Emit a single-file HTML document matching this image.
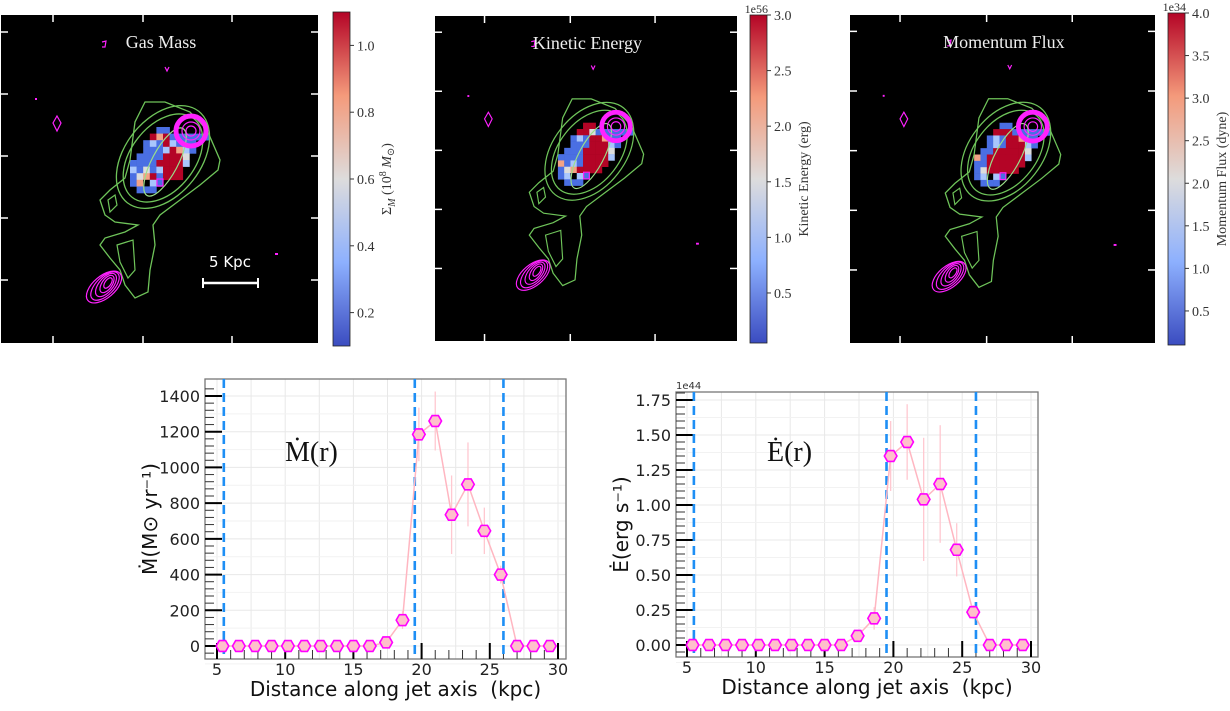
<!DOCTYPE html>
<html><head><meta charset="utf-8">
<style>
body{margin:0;background:#fff;width:1230px;height:707px;overflow:hidden;font-family:"DejaVu Sans","Liberation Sans",sans-serif}
svg text{font-family:"DejaVu Sans","Liberation Sans",sans-serif}
svg text.serif{font-family:"Liberation Serif","DejaVu Serif",serif}
</style></head>
<body>
<svg id="root" width="1230" height="707" viewBox="0 0 1230 707" xmlns="http://www.w3.org/2000/svg">
<defs>
<linearGradient id="cw" x1="0" y1="1" x2="0" y2="0">
<stop offset="0" stop-color="#3b4cc0"/><stop offset="0.25" stop-color="#8db0fe"/><stop offset="0.5" stop-color="#dddcdc"/><stop offset="0.75" stop-color="#f49a7b"/><stop offset="1" stop-color="#b40426"/>
</linearGradient>
<g id="contours">
<path d="M145,102 L165,102 L190,112 L207,130 L220,160 L218,170 L200,185 L180,200 L160,215 L153,225 L155,245 L150,270 L148,292 L135,298 L125,285 L120,270 L110,258 L100,245 L105,238 L125,232 L138,225 L115,222 L105,215 L100,200 L110,190 L125,178 L130,160 L135,122 Z" fill="none" stroke="#6fc45a" stroke-width="1.3"/>
<path d="M108,200 L115,195 L117,205 L110,212 Z" fill="none" stroke="#6fc45a" stroke-width="1.2"/>
<path d="M117,245 L133,240 L135,270 L128,278 L120,262 Z" fill="none" stroke="#6fc45a" stroke-width="1.2"/>
<ellipse cx="163" cy="157" rx="58" ry="38" transform="rotate(-52 163 157)" fill="none" stroke="#6fc45a" stroke-width="1.3"/>
<ellipse cx="163" cy="158" rx="50" ry="32" transform="rotate(-52 163 158)" fill="none" stroke="#6fc45a" stroke-width="1.3"/>
<ellipse cx="165" cy="162" rx="38" ry="13" transform="rotate(-62 165 162)" fill="none" stroke="#9be08a" stroke-width="1.2"/>
<circle cx="191" cy="131" r="15" fill="none" stroke="#ff22ff" stroke-width="5"/>
<circle cx="191" cy="131" r="9" fill="none" stroke="#ff22ff" stroke-width="1.2"/>
<circle cx="191" cy="131" r="5" fill="none" stroke="#ff22ff" stroke-width="1.2"/>
<g fill="none" stroke="#ff22ff" stroke-width="1.2">
<ellipse cx="104" cy="287" rx="21" ry="11" transform="rotate(-40 104 287)"/>
<ellipse cx="105" cy="286" rx="18" ry="9" transform="rotate(-45 105 286)"/>
<ellipse cx="106" cy="285" rx="14" ry="7" transform="rotate(-50 106 285)"/>
<ellipse cx="107" cy="284" rx="10" ry="5" transform="rotate(-55 107 284)"/>
<ellipse cx="108" cy="283" rx="6" ry="3" transform="rotate(-55 108 283)"/>
<path d="M57,116 L61,123 L57,131 L53,123 Z"/>
<path d="M102,42 L106,41 L105,47 L102,47"/>
<path d="M165,67 L167,71 L169,67"/>
<rect x="157" y="179" width="6" height="7"/>
</g>
<rect x="35" y="98" width="2" height="2" fill="#ff22ff"/>
<rect x="275" y="253" width="3" height="2" fill="#ff22ff"/>
</g>
</defs>
</svg>
<script>
const NS='http://www.w3.org/2000/svg';
const root=document.getElementById('root');
function mk(tag,attrs,parent,txt){const e=document.createElementNS(NS,tag);for(const k in attrs)e.setAttribute(k,attrs[k]);if(txt!==undefined)e.textContent=txt;(parent||root).appendChild(e);return e;}

// ---- Map panels ----
const panelTitles=['Gas Mass','Kinetic Energy','Momentum Flux'];
const cbLabels=['','Kinetic Energy (erg)','Momentum Flux (dyne)'];
const cbTicks1=['0.2','0.4','0.6','0.8','1.0'];
const cbVals1=[0.2,0.4,0.6,0.8,1.0];
const cbTicks2=['0.5','1.0','1.5','2.0','2.5','3.0'];
const cbVals2=[0.5,1.0,1.5,2.0,2.5,3.0];
const cbTicks3=['0.5','1.0','1.5','2.0','2.5','3.0','3.5','4.0'];
const cbVals3=[0.5,1.0,1.5,2.0,2.5,3.0,3.5,4.0];
const pixMaps=[
["....BB......","...RPRBBBBBB","..BLBRLBBB..","..BBBLRPLB..",".BBBBRRRW...","BBBBRRRRL...","LBWBLRRR....","BWPRBRRR....","BPKLB.......",".BBB........"],
["....RR......","...RRWBBBBBB","..BLBRRPBB..","..BBBRRRLB..",".BBBRRRRW...","BBBBRRRRL...","PBLBRRRR....","BWPRRRR.....","BLKLB.......",".BBB........"],
["....BB......","...RRRBBBBBB","..BLBRRPBB..","..BLBRRRLB..",".BBRRRRRW...","PBRRRRRRL...","BBRRRRRR....","BWRRRRR.....","BLKLB.......",".BBB........"]];
const colMap={B:'#4a6fe3',L:'#a9c6fd',W:'#dcdddd',R:'#b40426',P:'#f3a385',K:'#000000'};
const panels=[
 {x:1,y:15,w:317,h:328,cbx:333,cby:12,cbh:334,vmin:0.1,vmax:1.1,ticks:cbTicks1,vals:cbVals1,exp:''},
 {x:435,y:16,w:302,h:325,cbx:750,cby:15,cbh:328,vmin:0.05,vmax:3.0,ticks:cbTicks2,vals:cbVals2,exp:'1e56'},
 {x:850,y:15,w:305,h:328,cbx:1168,cby:13,cbh:332,vmin:0.1,vmax:4.0,ticks:cbTicks3,vals:cbVals3,exp:'1e34'}];
panels.forEach((p,i)=>{
 const g=mk('g',{});
 
 
 mk('rect',{x:p.x,y:p.y,width:p.w,height:p.h,fill:'#000'},g);
 const s=p.w/317;
 const inner=mk('g',{transform:`translate(${p.x},${p.y}) scale(${s}) translate(-1,-15)`},g);
 const cell=6.6;
 pixMaps[i].forEach((row,r)=>{[...row].forEach((c,ci)=>{if(c!=='.')mk('rect',{x:130+ci*cell,y:127+r*cell,width:cell+0.3,height:cell+0.3,fill:colMap[c]},inner);});});
 mk('use',{href:'#contours'},inner);
 [53,143,232].forEach(t=>{const tx=p.x+(t-1)*s;mk('line',{x1:tx,y1:p.y,x2:tx,y2:p.y+7,stroke:'#fff','stroke-width':1.5},g);mk('line',{x1:tx,y1:p.y+p.h,x2:tx,y2:p.y+p.h-7,stroke:'#fff','stroke-width':1.5},g);});
 [32,94,156,218,280].forEach(t=>{const ty=p.y+(t-15)*s;mk('line',{x1:p.x,y1:ty,x2:p.x+7,y2:ty,stroke:'#fff','stroke-width':1.5},g);mk('line',{x1:p.x+p.w,y1:ty,x2:p.x+p.w-7,y2:ty,stroke:'#fff','stroke-width':1.5},g);});
 const t=mk('text',{x:p.x+160*s,y:p.y+33,'font-size':18,fill:'#eee','text-anchor':'middle',class:'serif'},g,panelTitles[i]);
 
 
 if(i===0){
  const sb=mk('g',{},g);
  
  
  mk('text',{x:230,y:267,'font-size':15,fill:'#fff','text-anchor':'middle'},sb,'5 Kpc');
  mk('line',{x1:203,y1:283,x2:258,y2:283,stroke:'#fff','stroke-width':2.5},sb);
  mk('line',{x1:203,y1:278,x2:203,y2:288,stroke:'#fff','stroke-width':2},sb);
  mk('line',{x1:258,y1:278,x2:258,y2:288,stroke:'#fff','stroke-width':2},sb);
 }
 const cb=mk('g',{});
 
 
 mk('rect',{x:p.cbx,y:p.cby,width:17,height:p.cbh,fill:'url(#cw)',stroke:'#222','stroke-width':0.8},cb);
 p.vals.forEach((v,k)=>{
  const ty=p.cby+p.cbh-(v-p.vmin)/(p.vmax-p.vmin)*p.cbh;
  mk('line',{x1:p.cbx+17,y1:ty,x2:p.cbx+21,y2:ty,stroke:'#333'},cb);
  mk('text',{x:p.cbx+24,y:ty+5,'font-size':14,fill:'#333',class:'serif'},cb,p.ticks[k]);
 });
 if(p.exp)mk('text',{x:p.cbx+18,y:p.cby-2,'font-size':12,fill:'#333','text-anchor':'end',class:'serif'},cb,p.exp);
 const lx=p.cbx+58,ly=p.cby+p.cbh/2;
 const lt=mk('text',{x:lx,y:ly,'font-size':14,fill:'#333','text-anchor':'middle',class:'serif',transform:`rotate(-90 ${lx} ${ly})`},cb,cbLabels[i]);
 if(i===0){lt.textContent='Σ';mk('tspan',{'font-size':10,dy:4,'font-style':'italic'},lt,'M');mk('tspan',{dy:-4},lt,' (10');mk('tspan',{'font-size':10,dy:-5},lt,'8');mk('tspan',{dy:5,'font-style':'italic'},lt,' M');mk('tspan',{'font-size':10,dy:3},lt,'⊙');mk('tspan',{dy:-3},lt,')');}
});

// ---- Line charts ----
const distances=[5.4,6.6,7.8,9.0,10.2,11.4,12.6,13.8,15.0,16.2,17.4,18.6,19.8,21.0,22.2,23.4,24.6,25.8,27.0,28.2,29.4];
const massRate=[0,0,0,0,0,0,0,0,0,0,20,145,1185,1260,735,905,645,400,0,0,0];
const massErr=[0,0,0,0,0,0,0,0,0,0,10,50,150,165,220,235,130,50,0,0,0];
const energyRate=[0,0,0,0,0,0,0,0,0,0,0.065,0.19,1.35,1.45,1.04,1.15,0.68,0.235,0,0,0];
const energyErr=[0,0,0,0,0,0,0,0,0,0,0.02,0.08,0.25,0.27,0.44,0.42,0.19,0.05,0,0,0];
const vLines=[5.5,19.5,26.0];
const xTickVals=[5,10,15,20,25,30];
const mTickVals=[0,200,400,600,800,1000,1200,1400];
const mTickLabels=['0','200','400','600','800','1000','1200','1400'];
const eTickVals=[0,0.25,0.5,0.75,1.0,1.25,1.5,1.75];
const eTickLabels=['0.00','0.25','0.50','0.75','1.00','1.25','1.50','1.75'];

function chart(cfg){
 const g=mk('g',{});
 
 
 const X=v=>cfg.x0+(v-5)*cfg.xs, Y=v=>cfg.y0-v*cfg.ys;
 const L=cfg.l,R=cfg.r,T=cfg.t,B=cfg.b;
 mk('rect',{x:L,y:T,width:R-L,height:B-T,fill:'#fff'},g);
 for(let v=5;v<=30;v+=2.5)mk('line',{x1:X(v),y1:T,x2:X(v),y2:B,stroke:'#e8e8e8','stroke-width':1},g);
 const half=(Y(cfg.yt[0])-Y(cfg.yt[1]))/2;
 cfg.yt.forEach(v=>mk('line',{x1:L,y1:Y(v),x2:R,y2:Y(v),stroke:'#e8e8e8','stroke-width':1},g));
 cfg.yt.forEach(v=>mk('line',{x1:L,y1:Y(v)+half,x2:R,y2:Y(v)+half,stroke:'#f2f2f2','stroke-width':1},g));
 mk('rect',{x:L,y:T,width:R-L,height:B-T,fill:'none',stroke:'#777','stroke-width':1.3},g);
 const step=(cfg.yt[1]-cfg.yt[0])/5;
 for(let v=cfg.yt[0]-step;v<=cfg.yt[cfg.yt.length-1]+step*1.5;v+=step){const yy=Y(v);if(yy<T||yy>B)continue;mk('line',{x1:L,y1:yy,x2:L+9,y2:yy,stroke:'#333','stroke-width':1},g);}
 cfg.yt.forEach((v,k)=>{mk('line',{x1:L,y1:Y(v),x2:L+17,y2:Y(v),stroke:'#000','stroke-width':2},g);
  mk('text',{x:L-5,y:Y(v)+6,'font-size':16,fill:'#222','text-anchor':'end'},g,cfg.ytl[k]);});
 for(let v=5;v<=30;v+=1){const h=(v%5===0)?16:9;mk('line',{x1:X(v),y1:B,x2:X(v),y2:B-h,stroke:v%5===0?'#000':'#333','stroke-width':v%5===0?2:1},g);}
 xTickVals.forEach(v=>mk('text',{x:X(v),y:B+16,'font-size':16,fill:'#222','text-anchor':'middle'},g,String(v)));
 vLines.forEach(v=>{const l=mk('line',{x1:X(v),y1:T,x2:X(v),y2:B,stroke:'#1e8ff5','stroke-width':2.6,'stroke-dasharray':'9,5'},g);
  
  });
 distances.forEach((d,k)=>{if(cfg.err[k]>0)mk('line',{x1:X(d),y1:Y(cfg.vals[k]-cfg.err[k]),x2:X(d),y2:Y(cfg.vals[k]+cfg.err[k]),stroke:'#ffc8d0','stroke-width':1.3},g);});
 const pts=distances.map((d,k)=>X(d)+','+Y(cfg.vals[k])).join(' ');
 const pl=mk('polyline',{points:pts,fill:'none',stroke:'#ffb6c1','stroke-width':1.5},g);
 
 
 distances.forEach((d,k)=>{const cx=X(d),cy=Y(cfg.vals[k]),r=6.3;let s='';for(let a=0;a<6;a++){const an=Math.PI/3*a;s+=(cx+r*Math.cos(an))+','+(cy+r*Math.sin(an))+' ';}
  const m=mk('polygon',{points:s,fill:'#ffc0cb',stroke:'#ff00ff','stroke-width':1.6},g);
  
  });
 mk('text',{x:(L+R)/2+10,y:B+37,'font-size':20,fill:'#111','text-anchor':'middle'},g,'Distance along jet axis\u00a0\u00a0(kpc)');
 mk('text',{x:cfg.ylx,y:(T+B)/2,'font-size':20,fill:'#111','text-anchor':'middle',transform:`rotate(-90 ${cfg.ylx} ${(T+B)/2})`},g,cfg.ylab);
 mk('text',{x:cfg.tx,y:cfg.ty,'font-size':28,fill:'#111',class:'serif'},g,cfg.title);
 if(cfg.exp)mk('text',{x:L,y:T-3,'font-size':10,fill:'#333'},g,cfg.exp);
}
chart({name:'mass-outflow-chart',l:205,r:566,t:379,b:659,x0:217,xs:13.64,y0:646,ys:250/1400,vals:massRate,err:massErr,yt:mTickVals,ytl:mTickLabels,ylab:'Ṁ(M⊙ yr⁻¹)',ylx:157,title:'Ṁ(r)',tx:285,ty:461,exp:''});
chart({name:'energy-outflow-chart',l:676,r:1038,t:392,b:657,x0:687,xs:13.76,y0:645,ys:245/1.75,vals:energyRate,err:energyErr,yt:eTickVals,ytl:eTickLabels,ylab:'Ė(erg s⁻¹)',ylx:628,title:'Ė(r)',tx:767,ty:461,exp:'1e44'});
</script>
</body></html>
